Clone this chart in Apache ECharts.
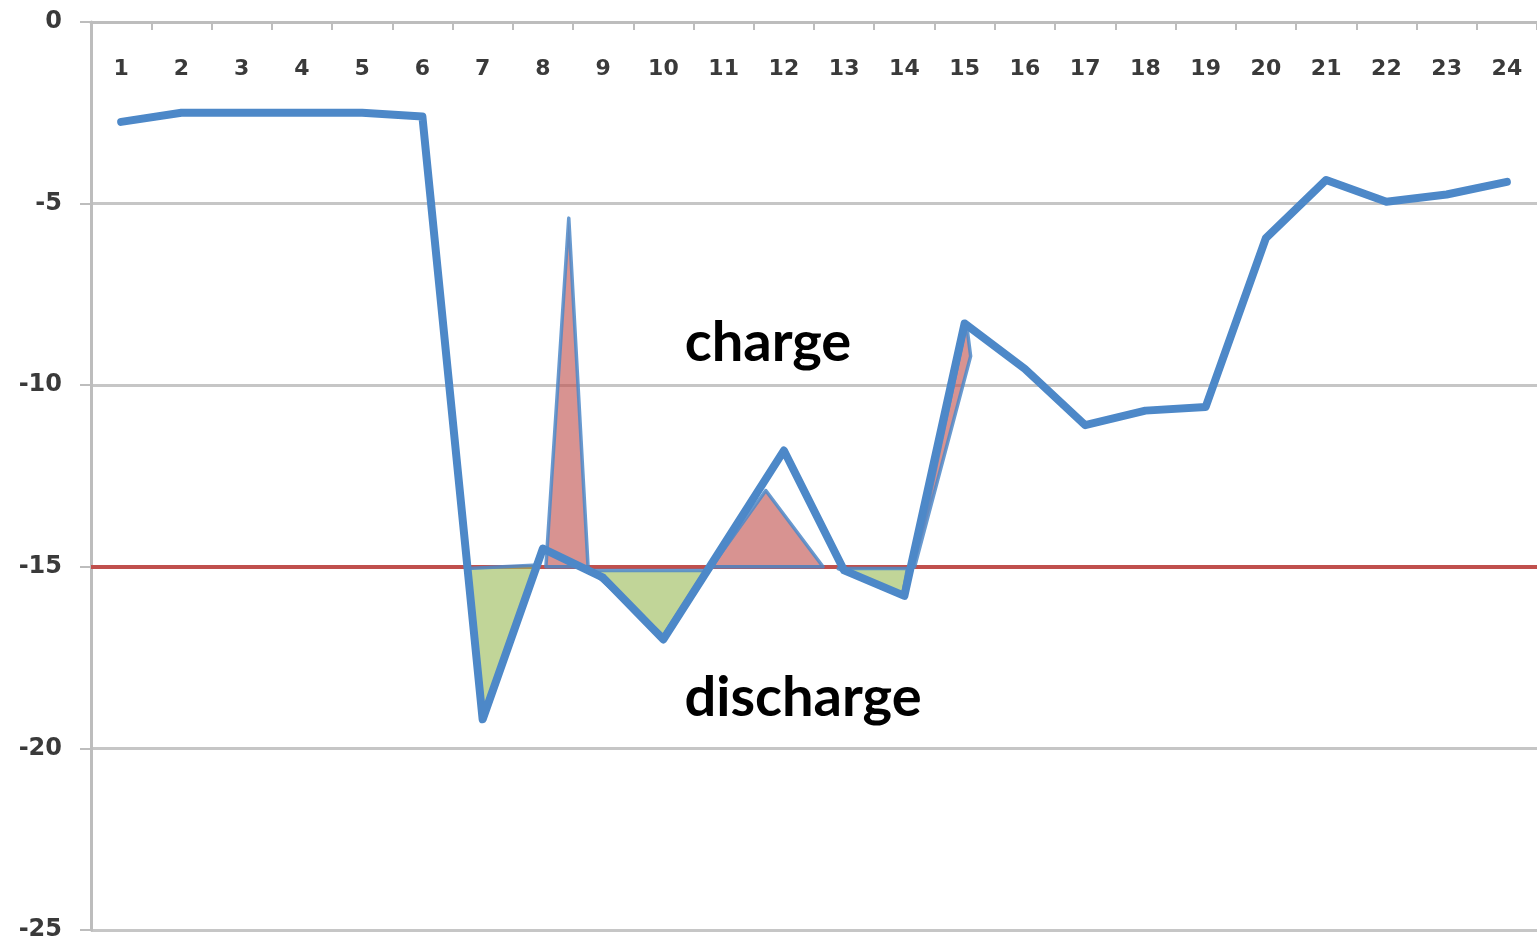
<!DOCTYPE html>
<html>
<head>
<meta charset="utf-8">
<script src="https://cdn.jsdelivr.net/npm/echarts@6/dist/echarts.min.js"></script>
<style>
html,body{margin:0;padding:0;background:#fff;}
#chart{width:1537px;height:951px;}
</style>
</head>
<body>
<div id="chart"></div>
<script>
// ---- data ----
const categories = ['1','2','3','4','5','6','7','8','9','10','11','12','13','14','15','16','17','18','19','20','21','22','23','24'];
const loadValues = [-2.75,-2.5,-2.5,-2.5,-2.5,-2.6,-19.2,-14.5,-15.3,-17.0,-14.4,-11.8,-15.1,-15.8,-8.3,-9.55,-11.1,-10.7,-10.6,-5.95,-4.35,-4.95,-4.75,-4.4];
const threshold = -15;
const yTicks = [0,-5,-10,-15,-20,-25];
// shaded areas: vertices as [category position, value]
const chargeAreas = [
  [[8.05,-15],[8.43,-5.4],[8.75,-15]],
  [[10.8,-15],[11.7,-12.9],[12.65,-15]],
  [[14.17,-15],[15.03,-8.3],[15.1,-9.2]]
];
const dischargeAreas = [
  [[6.75,-15.05],[7.02,-19.0],[7.92,-14.95]],
  [[8.8,-15.1],[10.0,-16.9],[10.7,-15.1]],
  [[12.9,-15.05],[13.97,-15.8],[14.05,-15.05]]
];
const labels = [
  {text:'charge', x:768, y:343},
  {text:'discharge', x:803, y:698}
];

// ---- chart ----
const chart = echarts.init(document.getElementById('chart'));
const gridCol = '#c6c6c6';
const labelCol = '#3a3a3a';
const blue = '#4d88c8';

function polySeries(name, polys, fill){
  return {
    name: name,
    type: 'custom',
    xAxisIndex: 1,
    yAxisIndex: 0,
    z: 3,
    silent: true,
    data: polys.map((p, i) => [i]),
    renderItem: function(params, api){
      const poly = polys[api.value(0)];
      const pts = poly.map(v => api.coord(v));
      return {
        type: 'polygon',
        shape: {points: pts},
        style: {fill: fill, stroke: 'rgba(77,136,200,0.85)', lineWidth: 3.5, lineJoin: 'round'}
      };
    }
  };
}

const option = {
  backgroundColor: '#ffffff',
  animation: false,
  grid: {left: 91, top: 22, right: -8, bottom: 21, containLabel: false},
  xAxis: [
    {
      type: 'category',
      position: 'top',
      data: categories,
      boundaryGap: true,
      axisLine: {show: true, onZero: false, lineStyle: {color: '#bdbdbd', width: 3}},
      axisTick: {show: true, inside: true, length: 8, alignWithLabel: false, lineStyle: {color: '#bdbdbd', width: 2}},
      axisLabel: {inside: true, margin: 36, color: labelCol, fontSize: 22, fontWeight: 'bold', fontFamily: 'DejaVu Sans', interval: 0},
      splitLine: {show: false}
    },
    {
      type: 'value',
      show: false,
      min: 0.5,
      max: 24.5
    }
  ],
  yAxis: {
    type: 'value',
    min: -25,
    max: 0,
    interval: 5,
    axisLine: {show: true, onZero: false, lineStyle: {color: '#bdbdbd', width: 3}},
    axisTick: {show: true, length: 11, lineStyle: {color: '#bdbdbd', width: 2}},
    axisLabel: {margin: 29, color: labelCol, fontSize: 24, fontWeight: 'bold', fontFamily: 'DejaVu Sans'},
    splitLine: {show: true, lineStyle: {color: gridCol, width: 3}}
  },
  series: [
    polySeries('charge', chargeAreas, 'rgba(192,80,77,0.62)'),
    polySeries('discharge', dischargeAreas, 'rgba(155,187,89,0.62)'),
    {
      name: 'load',
      type: 'line',
      xAxisIndex: 0,
      data: loadValues,
      symbol: 'none',
      z: 4,
      lineStyle: {color: blue, width: 8, join: 'round', cap: 'round'},
      markLine: {
        silent: true,
        symbol: ['none','none'],
        label: {show: false},
        lineStyle: {color: '#c0504d', width: 4, type: 'solid'},
        data: [{yAxis: threshold}],
        z: 2
      }
    }
  ],
  graphic: labels.map(l => ({
    type: 'text',
    x: l.x,
    y: l.y,
    z: 100,
    style: {
      text: l.text,
      fill: '#000',
      fontSize: 56,
      fontWeight: 'bold',
      fontFamily: 'Lato',
      align: 'center',
      verticalAlign: 'middle'
    }
  }))
};
chart.setOption(option);
</script>
</body>
</html>
